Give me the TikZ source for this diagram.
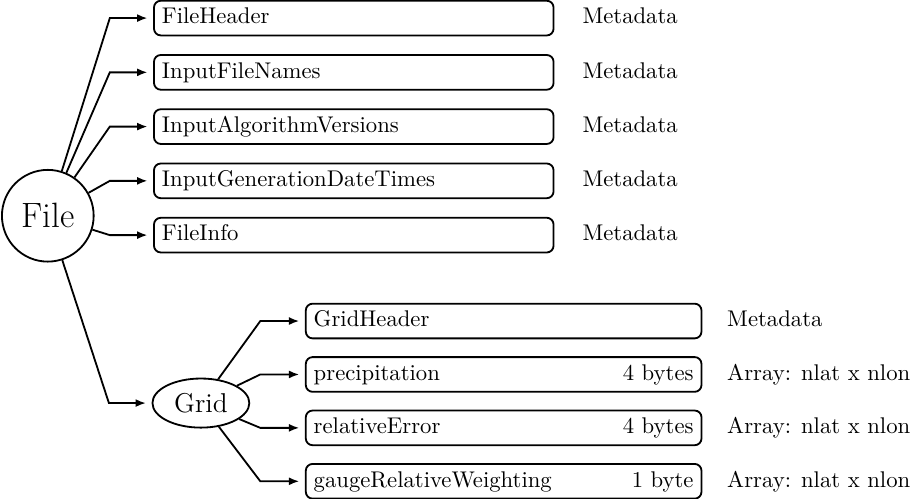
\documentclass[tikz,border=0pt]{standalone}
\usepackage{tikz}
\usetikzlibrary{arrows.meta, positioning, shapes.geometric, calc}

\tikzset{
    field/.style={draw, thick, rounded corners=3pt, anchor=west, align=left,
        inner xsep=3.5pt, minimum height=0.5cm, text height=1.6ex, text depth=0.4ex},
    filefield/.style={field, text width=5.94cm},
    gridfield/.style={field, text width=5.88cm},
    note/.style={text height=1.6ex, text depth=0.4ex},
    link/.style={thick, -{Latex[length=4.5pt,width=3.5pt]}, shorten >=2.5pt, outer sep=2pt},
}

\begin{document}
\begin{tikzpicture}
    \useasboundingbox (0,0) rectangle (14.15,-7.71);
    % root node and the group node
    \node[draw, thick, circle, minimum size=1.42cm, inner sep=0pt, font=\fontsize{15.5}{18}\selectfont] (file) at (0.74,-3.34) {File};
    \node[draw, thick, ellipse, minimum width=1.5cm, minimum height=0.76cm, inner sep=0pt, font=\large] (grid) at (3.11,-6.24) {Grid};

    % top level records
    \foreach \name/\txt [count=\i] in {fh/FileHeader, fn/InputFileNames, av/InputAlgorithmVersions, gd/InputGenerationDateTimes, fi/FileInfo} {
        \node[filefield] (\name) at (2.37,{-0.28-0.84*(\i-1)}) {\txt};
        \node[note, right=0.31cm of \name] (\name-note) {Metadata};
        \draw[link] (file) -- ($(\name.west)+(-0.67,0)$) -- (\name);
    }
    \draw[link] (file) -- ($(grid.west)+(-0.66,0)$) -- (grid);

    % grid contents
    \foreach \name/\txt/\size/\kind [count=\i] in {gh/GridHeader//Metadata, pr/precipitation/4 bytes/Array: nlat x nlon, re/relativeError/4 bytes/Array: nlat x nlon, gw/gaugeRelativeWeighting/1 byte/Array: nlat x nlon} {
        \node[gridfield] (\name) at (4.72,{-4.97-0.827*(\i-1)}) {\txt\hfill\size};
        \node[note, right=0.26cm of \name] (\name-note) {\kind};
        \draw[link] (grid) -- ($(\name.west)+(-0.69,0)$) -- (\name);
    }
\end{tikzpicture}
\end{document}
